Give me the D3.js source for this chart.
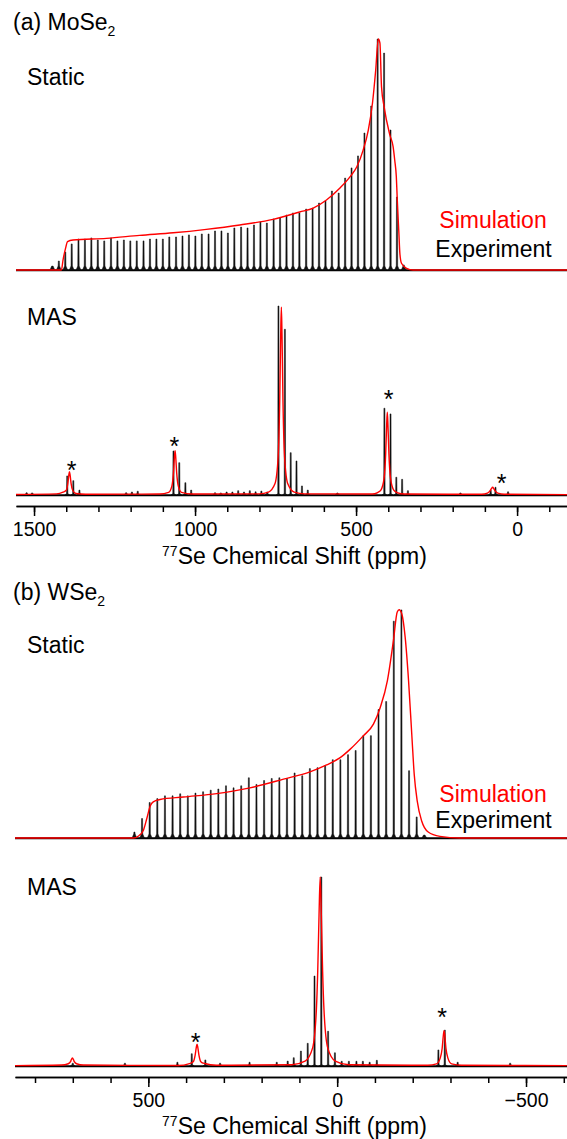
<!DOCTYPE html>
<html><head><meta charset="utf-8">
<script src="https://cdn.jsdelivr.net/npm/d3@7"></script>
<style>
body{margin:0;background:#fff}
svg{display:block}
text{font-family:"Liberation Sans",Arial,Helvetica,sans-serif}
</style>
</head><body><svg id="c" width="567" height="1139"></svg>
<script>
// ---------- (a) MoSe2 static: experiment spikelets (ppm, % intensity) ----------
const moStaticPpm = [1443,1423,1403,1383,1362,1342,1322,1302,1282,1261,1241,1221,1201,1181,1160,1140,1120,1100,1080,1059,1039,1019,999,979,958,938,918,898,878,857,837,817,797,777,756,736,716,696,676,655,635,615,595,575,554,534,514,494,474,453,433,413,393,373,352];
const moStaticInt = [1.7,3.9,7.8,11.3,13.4,13.4,13.9,13.0,12.6,13.9,12.6,13.0,12.6,12.6,12.6,13.4,13.4,13.4,14.3,14.3,14.7,15.2,14.7,15.6,15.6,16.9,16.9,16.0,18.2,18.6,18.2,19.5,20.8,20.3,22.1,22.5,23.8,24.7,24.7,26.4,26.8,29.0,29.9,34.2,33.3,39.8,44.2,49.4,59.3,71.0,100,93.9,60.6,31.6,2.2];
// (a) static simulation envelope
const moStaticSim = [[1556,0],[1415,0],[1410,4.3],[1402,9.5],[1396,12.3],[1379,13.0],[1275,13.7],[1172,15.0],[1068,16.1],[965,17.6],[861,19.5],[758,21.9],[675,25.1],[633,26.8],[592,30.3],[550,35.5],[519,40.3],[498,44.6],[478,51.9],[462,60.6],[449,72.3],[439,86.6],[431,100],[426,98.3],[421,79.4],[413,70.7],[395,58.4],[385,53.4],[380,47.6],[375,40.4],[372,30.3],[367,15.9],[364,7.2],[359,2.9],[343,0.7],[323,0],[-155,0]];
// ---------- (a) MoSe2 MAS ----------
const moMasPpm = [1523,1506,1397,1378,1359,1214,1196,1178,1067,1049,1030,1012,938,920,902,884,866,848,830,812,794,776,741,721,703,685,668,650,558,412,393,375,357,339,176,82,67,28];
const moMasInt = [1.2,1.1,10.1,7.6,2.6,1.2,1.6,2.0,23.3,17.1,6.5,2.6,1.2,1.1,1.6,1.6,2.3,1.6,2.3,1.7,2.1,1.6,100,87.7,22.4,18.0,4.8,2.6,1.1,45.9,42.9,9.4,8.3,2.3,1.1,2.6,4.1,1.7];
const moMasSim = [[1556,0.3],[1430,0.6],[1410,1.5],[1400,2.5],[1395,6.2],[1392,10.5],[1390,12.3],[1388,10.5],[1385,6.2],[1380,2.5],[1370,0.8],[1340,0.4],
 [1110,0.5],[1082,1.4],[1072,4.7],[1067,11.7],[1064,20],[1062,23.4],[1060,20],[1057,11.7],[1052,4.7],[1042,1.4],[1010,0.5],
 [800,0.6],[772,1.5],[752,5.9],[742,20],[737,50],[734,85],[732,99.3],[730,85],[727,50],[722,20],[712,5.9],[692,1.5],[660,0.6],
 [450,0.5],[433,1.3],[423,2.6],[413,8.8],[408,21.9],[405,37],[403,43.8],[401,37],[398,21.9],[393,8.8],[383,2.6],[373,1.3],[350,0.5],
 [110,0.4],[92,1.0],[84,2.2],[80,3.3],[76,4.1],[72,3.3],[68,2.2],[60,1.0],[40,0.4],[-155,0.2]];
const moStarPpm = [1383,1064,399,48];
const moStarLevel = [15.9,28.7,53.4,9.2];
// ---------- (b) WSe2 static ----------
const wStaticPpm = [536.8,516.6,496.4,476.2,456.0,435.8,415.6,395.4,375.2,355.0,334.8,314.6,294.4,274.3,254.1,233.9,213.7,193.5,173.3,153.1,132.9,112.7,92.5,72.3,52.1,31.9,11.7,-8.5,-28.7,-48.9,-69.1,-89.3,-109.5,-129.7,-149.9,-170.1,-190.3,-210.5,-230.6];
const wStaticInt = [2.6,8.5,15.5,17.2,18.4,18.4,19.3,18.4,19.6,20.2,20.9,21.4,22.8,21.9,22.8,26.3,23.4,25.1,26.0,26.3,26.0,28.4,27.2,30.3,30.7,31.6,34.2,34.2,36.4,38.2,44.7,44.7,56.1,59.6,94.7,99.6,29.4,9.2,1.3];
const wStaticSim = [[853,0],[539,0],[526,0.9],[513,3.4],[504,8.5],[495,14.0],[487,15.8],[469,16.8],[407,17.9],[319,19.4],[231,21.9],[142,25.7],[72,28.9],[28,31.9],[-8,35.1],[-34,38.7],[-69,44.6],[-96,49.7],[-114,57.0],[-133,68.7],[-149,86.3],[-159,98.7],[-164,99.7],[-171,97.9],[-180,87.7],[-189,68.7],[-198,43.9],[-204,27.8],[-212,16.1],[-224,7.3],[-241,2.6],[-272,0.7],[-325,0],[-608,0]];
// ---------- (b) WSe2 MAS ----------
const wMasPpm = [700,562,423,385,349,310,232,160,131,115,96,78,60,42,24,6,-12,-31,-51,-68,-86,-105,-268,-285,-319,-458];
const wMasInt = [1.5,1.5,2,6.5,3.2,1.5,2,2,2.6,4.4,7.9,12.0,47.6,100,18.4,7.0,2.5,2.5,2.5,2.5,2,3,8.5,19.0,2,1.5];
const wMasSim = [[853,0.2],[730,0.5],[712,1.2],[706,2.3],[704,3.3],[701,4.2],[698,3.3],[696,2.3],[690,1.2],[672,0.5],
 [420,0.3],[391,1.3],[381,2.3],[376,5.8],[373,9.8],[371,11.5],[369,9.8],[366,5.8],[361,2.3],[351,1.3],[320,0.4],
 [120,0.7],[85,2.6],[65,9.6],[55,30],[51.5,50],[48,80],[45,100],[42,80],[38.5,50],[35,30],[25,9.6],[5,2.6],[-30,0.7],
 [-240,0.4],[-263,1.1],[-273,4.3],[-278,9.4],[-281,16],[-283,18.7],[-285,16],[-288,9.4],[-293,4.3],[-303,1.1],[-330,0.4],[-608,0.2]];
const wStarPpm = [375,-278];
const wStarLevel = [15.5,28.7];
// ---------- axes ----------
const moMajorTicks = [1500,1000,500,0];
const moMinorTicks = [1500,1400,1300,1200,1100,1000,900,800,700,600,500,400,300,200,100,0,-100];
const wMajorTicks = [500,0,-500];
const wMinorTicks = [800,700,600,500,400,300,200,100,0,-100,-200,-300,-400,-500,-600];

const svg = d3.select('#c');
svg.append('rect').attr('width',567).attr('height',1139).attr('fill','#fff');

const xA = d3.scaleLinear().domain([1556,-155]).range([16,567]);
const xB = d3.scaleLinear().domain([853,-608.5]).range([15,567]);
const yAS = d3.scaleLinear().domain([0,100]).range([270,39]);
const yAM = d3.scaleLinear().domain([0,100]).range([495,306]);
const yBS = d3.scaleLinear().domain([0,100]).range([838,609]);
const yBM = d3.scaleLinear().domain([0,100]).range([1066,877]);

function spectrum(x, y, ppm, inten, sim, bump) {
  const g = svg.append('g');
  g.append('line').attr('x1',x.range()[0]).attr('x2',x.range()[1])
    .attr('y1',y(0)+0.3).attr('y2',y(0)+0.3).attr('stroke','#000').attr('stroke-width',2);
  const line = d3.line();
  g.selectAll(null).data(ppm.map((p,i)=>[p,inten[i]])).enter().append('path')
    .attr('d', d => {
      const cx = x(d[0]), b = y(0), t = y(d[1]);
      const bh = Math.min(bump, b - t);
      return line([[cx-2.4,b],[cx-0.7,b-bh],[cx-0.5,t],[cx+0.5,t],[cx+0.7,b-bh],[cx+2.4,b]]) + 'Z';
    })
    .attr('fill','#111').attr('stroke','#111').attr('stroke-width',0.5).attr('stroke-linejoin','round');
  const sl = d3.line().x(d=>x(d[0])).y(d=>y(d[1])).curve(d3.curveMonotoneX);
  g.append('path').attr('d', sl(sim)).attr('fill','none').attr('stroke','#ff0000').attr('stroke-width',1.4);
}
spectrum(xA, yAS, moStaticPpm, moStaticInt, moStaticSim, 4);
spectrum(xA, yAM, moMasPpm, moMasInt, moMasSim, 1.5);
spectrum(xB, yBS, wStaticPpm, wStaticInt, wStaticSim, 4);
spectrum(xB, yBM, wMasPpm, wMasInt, wMasSim, 1.5);

function stars(x, y, ppm, lev) {
  svg.selectAll(null).data(ppm.map((p,i)=>[p,lev[i]])).enter().append('text')
    .attr('x', d=>x(d[0])).attr('y', d=>y(d[1])+14).attr('text-anchor','middle')
    .attr('font-size',25).attr('fill','#000').text('*');
}
stars(xA, yAM, moStarPpm, moStarLevel);
stars(xB, yBM, wStarPpm, wStarLevel);

function axis(x, yPos, major, minor) {
  const gm = svg.append('g').attr('transform',`translate(0,${yPos})`)
    .call(d3.axisBottom(x).tickValues(minor).tickSize(6).tickFormat('').tickSizeOuter(0));
  const gM = svg.append('g').attr('transform',`translate(0,${yPos})`)
    .call(d3.axisBottom(x).tickValues(major).tickSize(10).tickPadding(6).tickSizeOuter(0).tickFormat(d3.format('d')));
  [gm,gM].forEach(g=>{
    g.selectAll('path,line').attr('stroke','#000').attr('stroke-width',1.5);
    g.attr('font-family','"Liberation Sans",Arial,sans-serif').attr('font-size',19.5);
    g.selectAll('text').attr('fill','#000');
  });
}
axis(xA, 506, moMajorTicks, moMinorTicks);
axis(xB, 1077, wMajorTicks, wMinorTicks);

function title(yb) {
  const t = svg.append('text').attr('x',294.5).attr('y',yb).attr('text-anchor','middle').attr('font-size',23).attr('fill','#000');
  t.append('tspan').attr('font-size',14).attr('dy',-8).text('77');
  t.append('tspan').attr('dy',8).text('Se Chemical Shift (ppm)');
}
title(564);
title(1134);

function label(x, y, main, sub, color) {
  const t = svg.append('text').attr('x',x).attr('y',y).attr('font-size',23).attr('fill',color||'#000');
  t.append('tspan').text(main);
  if (sub) t.append('tspan').attr('font-size',14).attr('dy',6).text(sub);
  return t;
}
label(13, 30, '(a) MoSe', '2');
label(27, 85, 'Static');
label(27, 325, 'MAS');
label(13, 600, '(b) WSe', '2');
label(27, 653, 'Static');
label(27, 895, 'MAS');
[[228,257],[802,828]].forEach(([ys,ye])=>{
  label(493, ys, 'Simulation', null, '#ff0000').attr('text-anchor','middle');
  label(493.5, ye, 'Experiment').attr('text-anchor','middle');
});
</script>
</body></html>
